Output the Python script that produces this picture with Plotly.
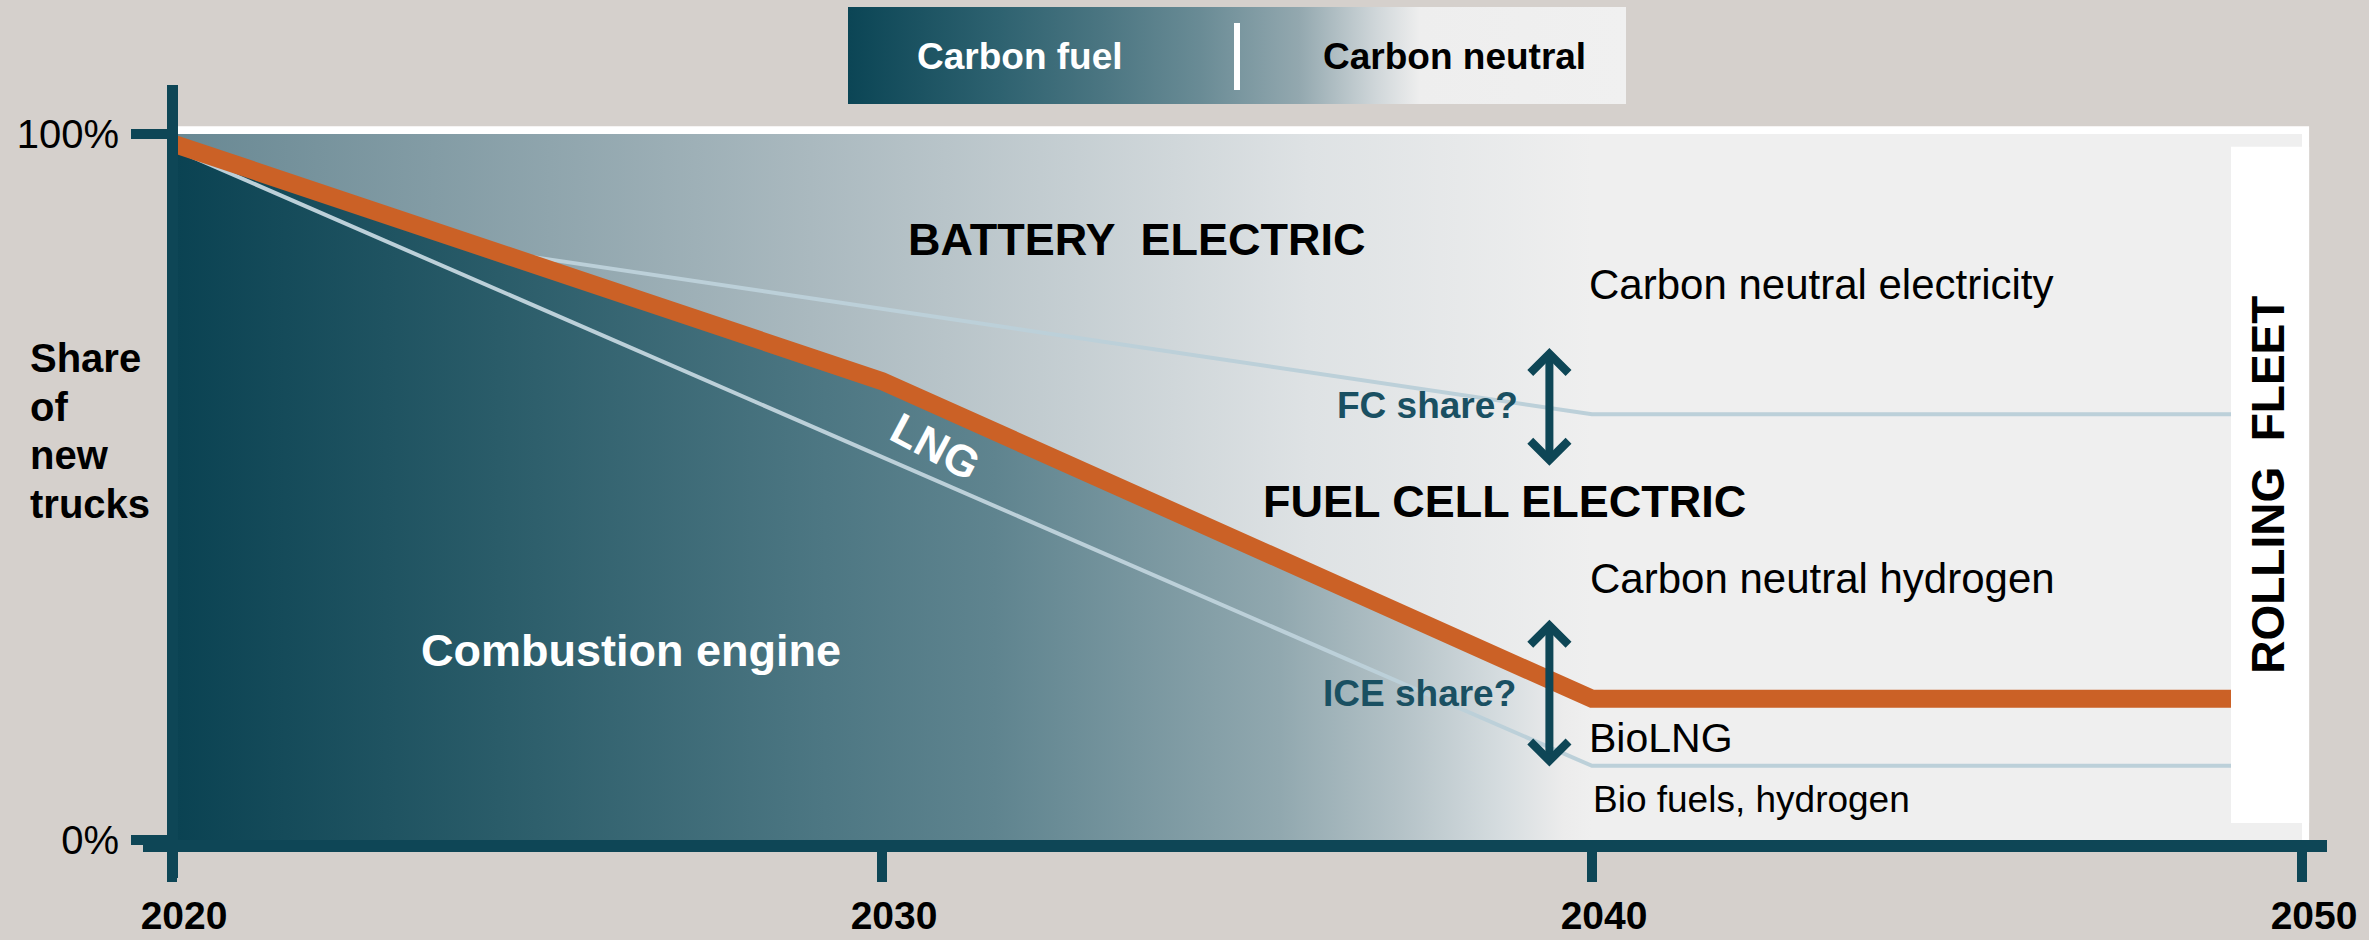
import plotly.graph_objects as go

W, H = 2369, 940

# ---------------- data ----------------
years_lng = [2020, 2030, 2040, 2049]
share_fossil = [98.7, 65.0, 20.0, 20.0]        # orange line: combustion + LNG share
years_ice = [2020, 2040, 2049]
share_ice = [98.0, 10.5, 10.5]                 # ICE / LNG boundary
years_fc = [2025, 2040, 2049]
share_fc = [82.7, 60.3, 60.3]                  # fuel-cell / battery boundary
frame_years = [2020, 2050]
frame_share = [0, 100]
x_tick_years = [2020, 2030, 2040, 2050]
x_tick_labels = ["2020", "2030", "2040", "2050"]
y_tick_vals = [0, 100]
y_tick_labels = ["0%", "100%"]
arrow_year = 2039.4
fc_share_span = [52.8, 69.7]
ice_share_span = [10.2, 31.2]
legend_labels = ["Carbon fuel", "Carbon neutral"]
y_title_lines = ["Share", "of", "new", "trucks"]

# ---------------- styles ----------------
FONT = "Liberation Sans, Arial, sans-serif"
TEAL = "#0e4656"
ORANGE = "#cb6126"
LIGHT = "#bcd0d9"
BG = "#d5d0cc"

upper_cs = [[0, "#688893"], [0.45, "#aab9bf"], [0.8, "#dee2e4"], [1, "#efefef"]]
lower_cs = [[0, "#0a4252"], [0.23, "#2a5c69"], [0.46, "#4d7783"], [0.58, "#5f848f"],
            [0.78, "#91a8af"], [0.865, "#b4c2c7"], [0.935, "#d5dcdf"], [0.98, "#ececec"],
            [1, "#efefef"]]
legend_cs = [[0, "#0b4555"], [0.195, "#2e6270"], [0.324, "#4a7581"], [0.452, "#698b95"],
             [0.58, "#93a8af"], [0.678, "#cfd6d9"], [0.735, "#eeeeee"], [1, "#f0f0f0"]]

# pixel geometry of the axes
X0_PX, PX_PER_YEAR = 172, 71.0
Y0_PX, PX_PER_PCT = 840, 7.06
XL, XR = 143, 2327
YT, YB = 85, 878
x_range = [2020 + (XL - X0_PX) / PX_PER_YEAR, 2020 + (XR - X0_PX) / PX_PER_YEAR]
y_range = [(Y0_PX - YB) / PX_PER_PCT, (Y0_PX - YT) / PX_PER_PCT]

fig = go.Figure()

# carbon-neutral background (upper gradient)
fx = [frame_years[0], frame_years[0], frame_years[1], frame_years[1]]
fy = [frame_share[0], frame_share[1], frame_share[1], frame_share[0]]
fig.add_trace(go.Scatter(
    x=fx, y=fy, mode="lines", fill="toself", line=dict(width=0),
    fillgradient=dict(type="horizontal", colorscale=upper_cs, start=2020, stop=2040),
    hoverinfo="skip", showlegend=False))

# carbon-fuel region under the orange line
px_ = years_lng + [years_lng[-1], years_lng[0]]
py_ = share_fossil + [0, 0]
fig.add_trace(go.Scatter(
    x=px_, y=py_, mode="lines", fill="toself", line=dict(width=0),
    fillgradient=dict(type="horizontal", colorscale=lower_cs, start=2020, stop=2040),
    hoverinfo="skip", showlegend=False))

# boundary lines
fig.add_trace(go.Scatter(x=years_fc, y=share_fc, mode="lines",
                         line=dict(color=LIGHT, width=4), hoverinfo="skip", showlegend=False))
fig.add_trace(go.Scatter(x=years_ice, y=share_ice, mode="lines",
                         line=dict(color=LIGHT, width=4), hoverinfo="skip", showlegend=False))
fig.add_trace(go.Scatter(x=years_lng, y=share_fossil, mode="lines",
                         line=dict(color=ORANGE, width=18), hoverinfo="skip", showlegend=False))

# legend bar (separate axes)
fig.add_trace(go.Scatter(
    x=[0, 0, 1, 1], y=[0, 1, 1, 0], mode="lines", fill="toself", line=dict(width=0),
    fillgradient=dict(type="horizontal", colorscale=legend_cs, start=0, stop=1),
    xaxis="x2", yaxis="y2", hoverinfo="skip", showlegend=False))

shapes = [
    # white plot background
    dict(type="rect", xref="x", yref="y", x0=2020, x1=2050.1, y0=0, y1=101.1,
         fillcolor="white", line=dict(width=0), layer="below"),
    # rolling fleet column
    dict(type="rect", xref="x", yref="y", x0=2049, x1=2050.1, y0=2.4, y1=98.2,
         fillcolor="white", line=dict(width=0), layer="above"),
    # legend divider
    dict(type="line", xref="x2", yref="y2", x0=0.5, x1=0.5, y0=0.144, y1=0.835,
         line=dict(color="white", width=6), layer="above"),
]

ann = []
def label(text, x, y, size, color="black", bold=False, xanchor="center", angle=0):
    ann.append(dict(text=text, x=x, y=y, xref="x", yref="y", showarrow=False,
                    xanchor=xanchor, yanchor="middle", textangle=angle,
                    font=dict(family=FONT, size=size, color=color,
                              weight="bold" if bold else "normal")))

label("BATTERY\u00a0 ELECTRIC", 2033.59, 85.0, 45, bold=True)
label("FUEL CELL ELECTRIC", 2038.77, 47.9, 45, bold=True)
label("Carbon neutral electricity", 2039.93, 78.75, 42, xanchor="left")
label("Carbon neutral hydrogen", 2039.94, 37.1, 42, xanchor="left")
label("BioLNG", 2039.93, 14.45, 41, xanchor="left")
label("Bio fuels, hydrogen", 2039.99, 5.67, 37, xanchor="left")
label("FC share?", 2038.99, 61.5, 37, color="#1a5062", bold=True, xanchor="right")
label("ICE share?", 2038.96, 20.8, 37, color="#1a5062", bold=True, xanchor="right")
label("Combustion engine", 2026.46, 26.9, 45, color="white", bold=True)
label("LNG", 2030.76, 55.7, 44, color="white", bold=True, angle=28)
label("ROLLING\u00a0 FLEET", 2049.52, 50.3, 46, bold=True, angle=-90)

# double arrows
for span in (fc_share_span, ice_share_span):
    ann.append(dict(x=arrow_year, y=span[1], ax=arrow_year, ay=span[0],
                    xref="x", yref="y", axref="x", ayref="y", text="",
                    showarrow=True, arrowside="end+start", arrowhead=4, startarrowhead=4,
                    arrowsize=0.92, startarrowsize=0.92, arrowwidth=8, arrowcolor=TEAL))

# y-axis title, one line at a time (tight line spacing as in the original)
for i, line_text in enumerate(y_title_lines):
    ann.append(dict(text=line_text, xref="paper", yref="paper",
                    x=28 / W, y=1 - (358 + 48.7 * i) / H, xanchor="left", yanchor="middle",
                    showarrow=False,
                    font=dict(family=FONT, size=40, color="black", weight="bold")))

# legend texts
ann.append(dict(text=legend_labels[0], xref="x2", yref="y2", x=0.221, y=0.485,
                showarrow=False, font=dict(family=FONT, size=37, color="white", weight="bold")))
ann.append(dict(text=legend_labels[1], xref="x2", yref="y2", x=0.779, y=0.485,
                showarrow=False, font=dict(family=FONT, size=37, color="black", weight="bold")))

fig.update_layout(
    width=W, height=H, margin=dict(l=0, r=0, t=0, b=0, pad=0, autoexpand=False),
    paper_bgcolor=BG, plot_bgcolor="rgba(0,0,0,0)",
    shapes=shapes, annotations=ann, showlegend=False,
    xaxis=dict(domain=[XL / W, XR / W], range=x_range, anchor="free", automargin=False,
               position=1 - 846 / H, showline=True, linewidth=12, linecolor=TEAL,
               ticks="outside", ticklen=30, tickwidth=10, tickcolor=TEAL,
               tickvals=x_tick_years, ticktext=x_tick_labels, ticklabelshift=12,
               tickfont=dict(family=FONT, size=39, color="black", weight="bold"),
               showgrid=False, zeroline=False, fixedrange=True),
    yaxis=dict(domain=[1 - YB / H, 1 - YT / H], range=y_range, anchor="free", automargin=False,
               position=X0_PX / W, showline=True, linewidth=11, linecolor=TEAL,
               ticks="outside", ticklen=36, tickwidth=10, tickcolor=TEAL,
               tickvals=y_tick_vals, ticktext=y_tick_labels, ticklabelstandoff=4,
               tickfont=dict(family=FONT, size=40, color="black"),
               showgrid=False, zeroline=False, fixedrange=True),
    xaxis2=dict(domain=[848 / W, 1626 / W], range=[0, 1], anchor="y2", visible=False,
                automargin=False, fixedrange=True),
    yaxis2=dict(domain=[1 - 104 / H, 1 - 7 / H], range=[0, 1], anchor="x2", visible=False,
                automargin=False, fixedrange=True),
)

fig.write_html(
    "out.html",
    config={"displayModeBar": False},
    post_script="document.body.style.margin='0px';document.body.style.padding='0px';"
                "document.body.style.background='#d5d0cc';",
)
